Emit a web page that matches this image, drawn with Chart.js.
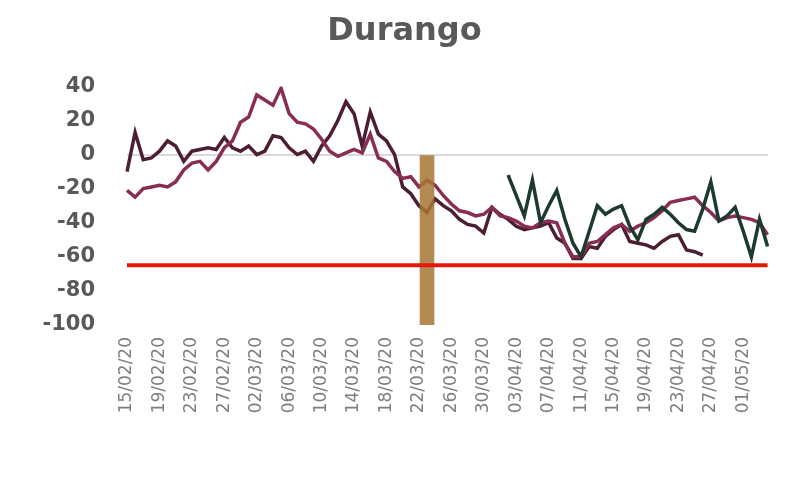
<!DOCTYPE html>
<html>
<head>
<meta charset="utf-8">
<script src="https://cdn.jsdelivr.net/npm/chart.js@4/dist/chart.umd.min.js"></script>
<style>
  html, body { margin: 0; padding: 0; background: #fff; }
  #wrap { width: 800px; height: 477px; }
</style>
</head>
<body>
<div id="wrap"><canvas id="myChart"></canvas></div>
<script>
// dates 15/02/20 .. 04/05/20
const dates = [
  "15/02/20","16/02/20","17/02/20","18/02/20","19/02/20","20/02/20","21/02/20","22/02/20","23/02/20","24/02/20",
  "25/02/20","26/02/20","27/02/20","28/02/20","29/02/20","01/03/20","02/03/20","03/03/20","04/03/20","05/03/20",
  "06/03/20","07/03/20","08/03/20","09/03/20","10/03/20","11/03/20","12/03/20","13/03/20","14/03/20","15/03/20",
  "16/03/20","17/03/20","18/03/20","19/03/20","20/03/20","21/03/20","22/03/20","23/03/20","24/03/20","25/03/20",
  "26/03/20","27/03/20","28/03/20","29/03/20","30/03/20","31/03/20","01/04/20","02/04/20","03/04/20","04/04/20",
  "05/04/20","06/04/20","07/04/20","08/04/20","09/04/20","10/04/20","11/04/20","12/04/20","13/04/20","14/04/20",
  "15/04/20","16/04/20","17/04/20","18/04/20","19/04/20","20/04/20","21/04/20","22/04/20","23/04/20","24/04/20",
  "25/04/20","26/04/20","27/04/20","28/04/20","29/04/20","30/04/20","01/05/20","02/05/20","03/05/20","04/05/20"
];

// dark maroon series
const serieOscura = [
  -10, 13, -3, -2, 2, 8, 5, -4, 2, 3,
  4, 3, 10, 4, 2, 5, 0, 2, 11, 10,
  4, 0, 2, -4, 5, 11, 20, 31, 24, 5,
  25, 12, 8, 0, -19, -23, -30, -34, -26, -30,
  -33, -38, -41, -42, -46, -31, -35, -38, -42, -44,
  -43, -42, -40, -49, -52, -61, -61, -54, -55, -48,
  -44, -41, -51, -52, -53, -55, -51, -48, -47, -56,
  -57, -59, null, null, null, null, null, null, null, null
];

// pink maroon series
const serieRosa = [
  -21, -25, -20, -19, -18, -19, -16, -9, -5, -4,
  -9, -4, 4, 8, 19, 22, 35, 32, 29, 39,
  24, 19, 18, 15, 9, 2, -1, 1, 3, 1,
  12, -2, -4, -10, -14, -13, -19, -15, -18, -24,
  -29, -33, -34, -36, -35, -31, -36, -37, -39, -42,
  -43, -40, -39, -40, -52, -60, -60, -52, -51, -47,
  -43, -41, -45, -42, -40, -37, -33, -28, -27, -26,
  -25, -30, -34, -39, -37, -36, -37, -38, -40, -47
];

// dark green series (starts 02/04)
const serieVerde = [
  null, null, null, null, null, null, null, null, null, null,
  null, null, null, null, null, null, null, null, null, null,
  null, null, null, null, null, null, null, null, null, null,
  null, null, null, null, null, null, null, null, null, null,
  null, null, null, null, null, null, null, -12, -24, -36,
  -15, -40, -30, -21, -38, -52, -60, -45, -30, -35,
  -32, -30, -42, -50, -38, -35, -31, -35, -40, -44,
  -45, -32, -16, -39, -36, -31, -45, -60, -38, -54
];

const lineaRoja = -65;
const fechaJornada = "23/03/20";
const barraJornada = [-100, 0];
const yTicks = { min: -100, max: 40, step: 20 };

Chart.defaults.font.family = "'DejaVu Sans', sans-serif";

const ctx = document.getElementById("myChart").getContext("2d");
const myChart = new Chart(ctx, {
  type: "line",
  data: {
    labels: dates,
    datasets: [
      {
        label: "limite",
        data: [{ x: dates[0], y: lineaRoja }, { x: dates[dates.length - 1], y: lineaRoja }],
        borderColor: "#e3170a",
        borderWidth: 4,
        pointRadius: 0,
      },
      {
        type: "bar",
        label: "jornada",
        data: [{ x: fechaJornada, y: barraJornada }],
        backgroundColor: "rgba(168,118,52,0.85)",
        barThickness: 14,
      },
      {
        label: "verde",
        data: serieVerde,
        borderColor: "#1d3a2e",
        borderWidth: 3.5,
        pointRadius: 0,
      },
      {
        label: "rosa",
        data: serieRosa,
        borderColor: "#8a2d55",
        borderWidth: 3.5,
        pointRadius: 0,
      },
      {
        label: "oscura",
        data: serieOscura,
        borderColor: "#4c1e33",
        borderWidth: 3.5,
        pointRadius: 0,
      },
    ],
  },
  options: {
    responsive: true,
    maintainAspectRatio: false,
    animation: false,
    layout: { padding: { left: 40, right: 31, top: 0, bottom: 0 } },
    plugins: {
      legend: { display: false },
      tooltip: { enabled: false },
      title: {
        display: true,
        text: "Durango",
        color: "#595959",
        font: { size: 32, weight: "bold" },
        padding: { top: 12, bottom: 36 },
      },
    },
    scales: {
      x: {
        offset: false,
        grid: { display: false, offset: false, drawTicks: false },
        border: { display: false },
        ticks: {
          autoSkip: false,
          maxRotation: 90,
          minRotation: 90,
          padding: 12,
          color: "#7f7f7f",
          font: { size: 17 },
          callback: function (val, i) {
            return i % 4 === 0 ? this.getLabelForValue(val) : "";
          },
        },
        afterFit: function (scale) {
          scale.height = 152;
        },
      },
      y: {
        min: yTicks.min,
        max: yTicks.max,
        border: { display: false },
        grid: {
          drawTicks: false,
          lineWidth: 2,
          color: function (c) {
            return c.tick && c.tick.value === 0 ? "#d9d9d9" : "rgba(0,0,0,0)";
          },
        },
        ticks: {
          stepSize: yTicks.step,
          padding: 32,
          color: "#595959",
          font: { size: 21, weight: "bold" },
        },
        afterFit: function (scale) {
          scale.width = 87;
        },
      },
    },
  },
});
</script>
</body>
</html>
